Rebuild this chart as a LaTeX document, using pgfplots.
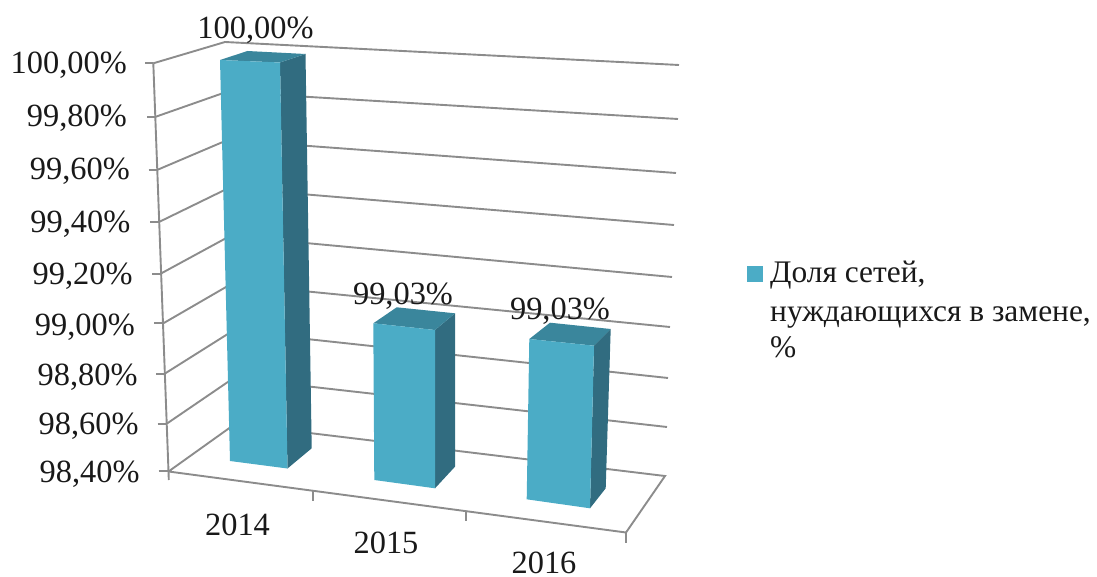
\documentclass[border=0pt]{standalone}
\usepackage{fontspec}
\setmainfont{Liberation Serif}
\usepackage{pgfplots}
\pgfplotsset{compat=1.18}
\definecolor{barfront}{HTML}{4BACC6}
\definecolor{barside}{HTML}{316C80}
\definecolor{bartop}{HTML}{3A869C}
\definecolor{gridc}{HTML}{8C8C8C}
\tikzset{
  gl/.style={draw=gridc,line width=1.9pt},
  lab/.style={font=\fontsize{32.4}{37}\selectfont,inner sep=0pt,text=black!90},
  leg/.style={font=\fontsize{31.4}{37}\selectfont,inner sep=0pt,text=black!90,anchor=base west},
}
\begin{document}
\begin{tikzpicture}
\begin{axis}[
  scale only axis,
  width=1097pt,height=577pt,
  xmin=0,xmax=1097,ymin=0,ymax=577,
  y dir=reverse,
  axis lines=none,
  clip=false,
  every axis plot/.append style={no markers},
]
% fixes the page to the full frame
\path[use as bounding box] (axis cs:0,0) rectangle (axis cs:1097,577);
% side wall (front-left edge -> back-left edge) gridlines
\addplot[gl] coordinates {(153.3,63.3)(225,42)(679,65)};
\addplot[gl] coordinates {(155,117)(226.2,92)(678,119)};
\addplot[gl] coordinates {(157,170)(227.5,140)(676,173)};
\addplot[gl] coordinates {(159,222)(228.7,188)(674,225)};
\addplot[gl] coordinates {(161,273.5)(230,236)(672,277)};
\addplot[gl] coordinates {(163,323.5)(231.2,284)(670,327)};
\addplot[gl] coordinates {(165,373.5)(232.5,331)(668,378)};
\addplot[gl] coordinates {(167,423.5)(233.7,378)(667,427)};
% floor
\addplot[gl] coordinates {(168.5,471.5)(235,424)(665,476)(626,532.5)(168.5,471.5)};
% vertical axis and tick marks
\addplot[gl] coordinates {(153.3,63.3)(168.5,471.5)(168.8,480)};
\addplot[gl] coordinates {(145,63.3)(153.3,63.3)};
\addplot[gl] coordinates {(147,117)(155,117)};
\addplot[gl] coordinates {(148.5,170)(157,170)};
\addplot[gl] coordinates {(150,222.3)(159,222.3)};
\addplot[gl] coordinates {(152,273.7)(161,273.7)};
\addplot[gl] coordinates {(154,323.3)(163,323.3)};
\addplot[gl] coordinates {(156,373.7)(165,373.7)};
\addplot[gl] coordinates {(157.5,423.7)(167,423.7)};
\addplot[gl] coordinates {(158.5,471)(168.5,471)};
% x tick marks
\addplot[gl] coordinates {(313.3,490.5)(313.3,500.5)};
\addplot[gl] coordinates {(466,510.5)(466,521)};
\addplot[gl] coordinates {(626,532.5)(626,543)};
% bar 2014
\addplot[fill=barside,draw=none] coordinates {(280,62.5)(305.5,54)(311.7,448.3)(287.5,468.5)};
\addplot[fill=bartop,draw=none] coordinates {(220,60)(247.5,51)(305.5,54)(280,62.5)};
\addplot[fill=barfront,draw=none] coordinates {(220,60)(280,62.5)(287.5,468.5)(230,461)};
% bar 2015
\addplot[fill=barside,draw=none] coordinates {(435,330)(455,313.3)(455,466.7)(435,488.3)};
\addplot[fill=bartop,draw=none] coordinates {(373.3,323.3)(396.7,307.3)(455,313.3)(435,330)};
\addplot[fill=barfront,draw=none] coordinates {(373.3,323.3)(435,330)(435,488.3)(374.3,480)};
% bar 2016
\addplot[fill=barside,draw=none] coordinates {(594,345.7)(610.7,329)(605.7,488.3)(590,508.3)};
\addplot[fill=bartop,draw=none] coordinates {(529.3,339)(550,322.7)(610.7,329)(594,345.7)};
\addplot[fill=barfront,draw=none] coordinates {(529.3,339)(594,345.7)(590,508.3)(526.7,499.3)};
% legend key
\addplot[fill=barfront,draw=none] coordinates {(746.7,266)(763.3,266)(763.3,281.7)(746.7,281.7)};
% tick labels
\node[lab,anchor=base east] at (axis cs:127,73.3) {100,00\%};
\node[lab,anchor=base east] at (axis cs:127,127) {99,80\%};
\node[lab,anchor=base east] at (axis cs:130,180) {99,60\%};
\node[lab,anchor=base east] at (axis cs:130.5,232.7) {99,40\%};
\node[lab,anchor=base east] at (axis cs:132.7,284) {99,20\%};
\node[lab,anchor=base east] at (axis cs:135,335) {99,00\%};
\node[lab,anchor=base east] at (axis cs:137.7,385) {98,80\%};
\node[lab,anchor=base east] at (axis cs:138.7,434) {98,60\%};
\node[lab,anchor=base east] at (axis cs:139.7,482) {98,40\%};
% category labels
\node[lab,anchor=base] at (axis cs:237.5,535) {2014};
\node[lab,anchor=base] at (axis cs:386,553.5) {2015};
\node[lab,anchor=base] at (axis cs:544,573.5) {2016};
% value labels
\node[lab,anchor=base] at (axis cs:255.5,39) {100,00\%};
\node[lab,anchor=base] at (axis cs:403,304) {99,03\%};
\node[lab,anchor=base] at (axis cs:560,319) {99,03\%};
% legend text
\node[leg] at (axis cs:770,283) {Доля сетей,};
\node[leg] at (axis cs:770,321) {нуждающихся в замене,};
\node[leg] at (axis cs:770,357) {\%};
\end{axis}
\end{tikzpicture}
\end{document}
